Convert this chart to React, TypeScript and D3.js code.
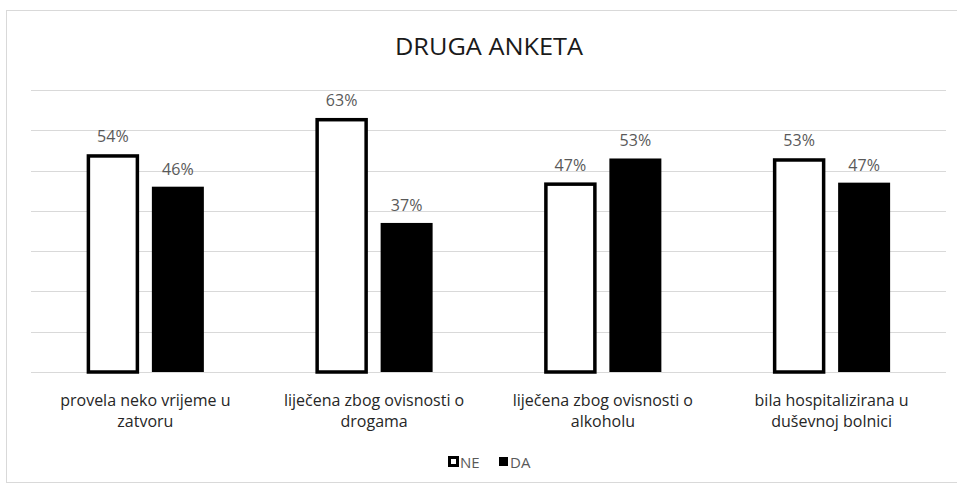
import { useEffect, useRef } from "react";
import * as d3 from "d3";

const categories = [
  ["provela neko vrijeme u", "zatvoru"],
  ["liječena zbog ovisnosti o", "drogama"],
  ["liječena zbog ovisnosti o", "alkoholu"],
  ["bila hospitalizirana u", "duševnoj bolnici"],
];
const seriesNames = ["NE", "DA"];
const neValues = [0.54, 0.63, 0.47, 0.53];
const daValues = [0.46, 0.37, 0.53, 0.47];

const W = 957;
const H = 488;
const FONT = "'Open Sans', 'Liberation Sans', sans-serif";

export default function App() {
  const svgRef = useRef<SVGSVGElement>(null);

  useEffect(() => {
    if (!svgRef.current) return;
    const svg = d3.select(svgRef.current);
    svg.selectAll("*").remove();

    // chart frame
    svg.append("rect")
      .attr("x", 6.5).attr("y", 10.5)
      .attr("width", W + 10).attr("height", H - 16)
      .attr("fill", "#fff")
      .attr("stroke", "#d9d9d9");

    svg.append("text")
      .attr("x", 489).attr("y", 55)
      .attr("text-anchor", "middle")
      .attr("font-family", FONT)
      .attr("font-size", 24)
      .attr("fill", "#1a1a1a")
      .attr("textLength", 188)
      .attr("lengthAdjust", "spacingAndGlyphs")
      .text("DRUGA ANKETA");

    const keys = categories.map((c) => c.join(" "));
    const x0 = d3.scaleBand<string>().domain(keys).range([31, 946]);
    const x1 = d3.scaleBand<string>()
      .domain(seriesNames)
      .range([0, x0.bandwidth()])
      .paddingInner(0.2)
      .paddingOuter(0.86);
    const y = d3.scaleLinear().domain([0, 0.7]).range([372, 90]);

    // gridlines
    svg.append("g")
      .selectAll("line")
      .data(y.ticks(7))
      .join("line")
      .attr("x1", 31).attr("x2", 946)
      .attr("y1", (d) => Math.round(y(d)) + 0.5)
      .attr("y2", (d) => Math.round(y(d)) + 0.5)
      .attr("stroke", "#d9d9d9")
      .attr("stroke-width", 1.2);

    const rows = keys.map((k, i) => ({ key: k, NE: neValues[i], DA: daValues[i] }));

    const groups = svg.append("g")
      .selectAll("g")
      .data(rows)
      .join("g")
      .attr("transform", (d) => `translate(${x0(d.key)},0)`);

    // NE bars: white with thick black border
    groups.append("rect")
      .attr("x", x1("NE")! + 1.5)
      .attr("y", (d) => y(d.NE) + 1.5)
      .attr("width", x1.bandwidth() - 3)
      .attr("height", (d) => y(0) - y(d.NE) - 1.5)
      .attr("fill", "#fff")
      .attr("stroke", "#000")
      .attr("stroke-width", 3.5);

    groups.append("rect")
      .attr("x", x1("DA")!)
      .attr("y", (d) => y(d.DA))
      .attr("width", x1.bandwidth())
      .attr("height", (d) => y(0) - y(d.DA))
      .attr("fill", "#000");

    const pct = d3.format(".0%");
    seriesNames.forEach((s) => {
      groups.append("text")
        .attr("x", x1(s)! + x1.bandwidth() / 2)
        .attr("y", (d) => y(d[s as "NE" | "DA"]) - 12)
        .attr("text-anchor", "middle")
        .attr("font-family", FONT)
        .attr("font-size", 16)
        .attr("fill", "#595959")
        .text((d) => pct(d[s as "NE" | "DA"]));
    });

    // category labels
    const labels = svg.append("g")
      .selectAll("text")
      .data(categories)
      .join("text")
      .attr("text-anchor", "middle")
      .attr("font-family", FONT)
      .attr("font-size", 16)
      .attr("fill", "#262626");
    labels.each(function (d, i) {
      const t = d3.select(this);
      const cx = x0(keys[i])! + x0.bandwidth() / 2;
      d.forEach((line, j) => {
        t.append("tspan").attr("x", cx).attr("y", 406 + j * 21).text(line);
      });
    });

    // legend
    const legend = svg.append("g").attr("font-family", FONT).attr("font-size", 15).attr("fill", "#595959");
    legend.append("rect")
      .attr("x", 449.5).attr("y", 457.5).attr("width", 8).attr("height", 8)
      .attr("fill", "#fff").attr("stroke", "#000").attr("stroke-width", 3);
    legend.append("text").attr("x", 460).attr("y", 467.5).text(seriesNames[0]);
    legend.append("rect")
      .attr("x", 499).attr("y", 457).attr("width", 9).attr("height", 9)
      .attr("fill", "#000");
    legend.append("text").attr("x", 510).attr("y", 467.5).text(seriesNames[1]);
  }, []);

  return (
    <svg
      ref={svgRef}
      width={W}
      height={H}
      style={{ position: "fixed", left: 0, top: 0, background: "#fff" }}
    />
  );
}
